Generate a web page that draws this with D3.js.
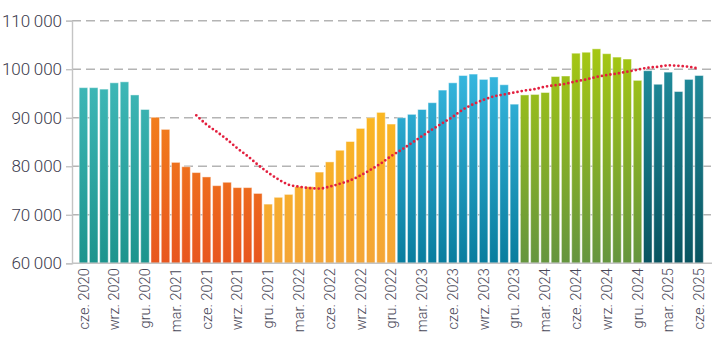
<!DOCTYPE html>
<html lang="pl">
<head>
<meta charset="utf-8">
<script src="https://cdn.jsdelivr.net/npm/d3@7"></script>
<style>
  html, body { margin: 0; padding: 0; background: #ffffff; }
  svg { display: block; }
  .ylab { font-family: Roboto, "Liberation Sans", sans-serif; font-weight: 300; font-size: 17px; fill: #3b3a4c; }
  .xlab { font-family: Roboto, "Liberation Sans", sans-serif; font-weight: 300; font-size: 14.5px; fill: #4a4858; }
</style>
</head>
<body>
<svg id="chart" width="716" height="343"></svg>
<script>
// Monthly observations, June 2020 – June 2025
const monthNames = ["sty.", "lut.", "mar.", "kwi.", "maj", "cze.", "lip.", "sie.", "wrz.", "paź.", "lis.", "gru."];
const months = d3.range(61).map(i => {
  const m = (5 + i) % 12;
  const yr = 2020 + Math.floor((5 + i) / 12);
  return monthNames[m] + " " + yr;
});

const values = [
  96200, 96200, 95900, 97200, 97400, 94700, 91700,
  90100, 87600, 80800, 79900, 78700, 77800, 76000, 76700, 75600, 75600, 74400,
  72200, 73600, 74200, 75800, 75800, 78800, 80900, 83300, 85100, 87800, 90000, 91100, 88700,
  90000, 90700, 91700, 93100, 95700, 97200, 98700, 99000, 97900, 98400, 96800, 92800,
  94700, 94800, 95200, 98500, 98600, 103300, 103500, 104200, 103200, 102500, 102100, 97700,
  99700, 96900, 99400, 95400, 97900, 98700
];

// Trend (moving average), starts in May 2021
const trend = [
  null, null, null, null, null, null, null, null, null, null, null,
  90500, 88600, 87100, 85500, 83700, 82100, 80300, 78700, 77300, 76200,
  75800, 75500, 75400, 75800, 76400, 77100, 78100, 79300, 80600, 82100,
  83400, 84800, 86200, 87600, 88900, 90200, 91700, 92800, 93700, 94400,
  94800, 95200, 95600, 95900, 96400, 96700, 97000, 97500, 97900, 98400,
  98800, 99100, 99500, 99900, 100300, 100500, 100800, 100700, 100500, 100100
];

// Colour group of every bar (index into groupColors)
const groupOf = [
  0, 0, 0, 0, 0, 0, 0,
  1, 1, 1, 1, 1, 1, 1, 1, 1, 1, 1,
  2, 2, 2, 2, 2, 2, 2, 2, 2, 2, 2, 2, 2,
  3, 3, 3, 3, 3, 3, 3, 3, 3, 3, 3, 3,
  4, 4, 4, 4, 4, 4, 4, 4, 4, 4, 4, 4,
  5, 5, 5, 5, 5, 5
];
const groupColors = [
  ["#49c3c5", "#1d948d"],
  ["#f8971a", "#e8561f"],
  ["#fec114", "#f4a537"],
  ["#42c6f0", "#097d9e"],
  ["#aece0c", "#65953f"],
  ["#2598a9", "#095460"]
];

const yTicks = [60000, 70000, 80000, 90000, 100000, 110000];

const svg = d3.select("#chart");
const plotLeft = 72, plotRight = 712, plotTop = 20.7, plotBottom = 263.3;

const x = d3.scaleBand()
  .domain(months)
  .range([78.3, 704.2])
  .paddingInner(0.17)
  .paddingOuter(0.085);

const y = d3.scaleLinear()
  .domain([60000, 110000])
  .range([plotBottom, plotTop]);

const plFormat = d3.formatLocale({ decimal: ",", thousands: "\u2009", grouping: [3], currency: ["", " zł"] }).format(",");

// Gradients for each colour group, spanning the full plot height
const defs = svg.append("defs");
groupColors.forEach((c, i) => {
  const g = defs.append("linearGradient")
    .attr("id", "grad" + i)
    .attr("gradientUnits", "userSpaceOnUse")
    .attr("x1", 0).attr("x2", 0)
    .attr("y1", y(110000)).attr("y2", y(60000));
  g.append("stop").attr("offset", "0%").attr("stop-color", c[0]);
  g.append("stop").attr("offset", "100%").attr("stop-color", c[1]);
});

// Horizontal grid
svg.append("g")
  .selectAll("line")
  .data(yTicks.filter(t => t > 60000))
  .join("line")
  .attr("x1", plotLeft).attr("x2", plotRight)
  .attr("y1", d => y(d)).attr("y2", d => y(d))
  .attr("stroke", "#b4b4b4")
  .attr("stroke-width", 1.4)
  .attr("stroke-dasharray", "9 5");

// Bars
svg.append("g")
  .selectAll("rect")
  .data(values)
  .join("rect")
  .attr("x", (d, i) => x(months[i]))
  .attr("width", x.bandwidth())
  .attr("y", d => y(d))
  .attr("height", d => y(60000) - y(d))
  .attr("fill", (d, i) => `url(#grad${groupOf[i]})`)
  .attr("stroke", "rgba(255,255,255,0.45)")
  .attr("stroke-width", 1);

// Y axis
const yAxis = svg.append("g")
  .attr("transform", `translate(${plotLeft},0)`)
  .call(d3.axisLeft(y).tickValues(yTicks).tickSize(6).tickPadding(4).tickFormat(plFormat));
yAxis.select(".domain").attr("stroke", "#c4c4c4").attr("stroke-width", 1.4);
yAxis.selectAll(".tick line").attr("stroke", "#c4c4c4").attr("stroke-width", 1.4);
yAxis.selectAll(".tick text").attr("class", "ylab").attr("font-family", null).attr("font-size", null).attr("fill", null);

// X axis baseline
svg.append("line")
  .attr("x1", plotLeft).attr("x2", plotRight)
  .attr("y1", plotBottom).attr("y2", plotBottom)
  .attr("stroke", "#c4c4c4")
  .attr("stroke-width", 1.4);

// X labels, every third month, rotated
const xAxis = svg.append("g")
  .attr("transform", `translate(0,${plotBottom})`)
  .call(d3.axisBottom(x).tickValues(months.filter((m, i) => i % 3 === 0)).tickSize(0).tickPadding(0));
xAxis.select(".domain").remove();
xAxis.selectAll(".tick text")
  .attr("class", "xlab")
  .attr("font-family", null).attr("font-size", null).attr("fill", null)
  .attr("transform", "rotate(-90)")
  .attr("text-anchor", "end")
  .attr("x", -5)
  .attr("y", 0)
  .attr("dy", "0.35em");

// Dotted trend line
const line = d3.line()
  .defined(d => d != null)
  .x((d, i) => x(months[i]) + x.bandwidth() / 2)
  .y(d => y(d))
  .curve(d3.curveMonotoneX);

svg.append("path")
  .datum(trend)
  .attr("d", line)
  .attr("fill", "none")
  .attr("stroke", "#e3203f")
  .attr("stroke-width", 2.8)
  .attr("stroke-linecap", "round")
  .attr("stroke-dasharray", "0 4.3");
</script>
</body>
</html>
